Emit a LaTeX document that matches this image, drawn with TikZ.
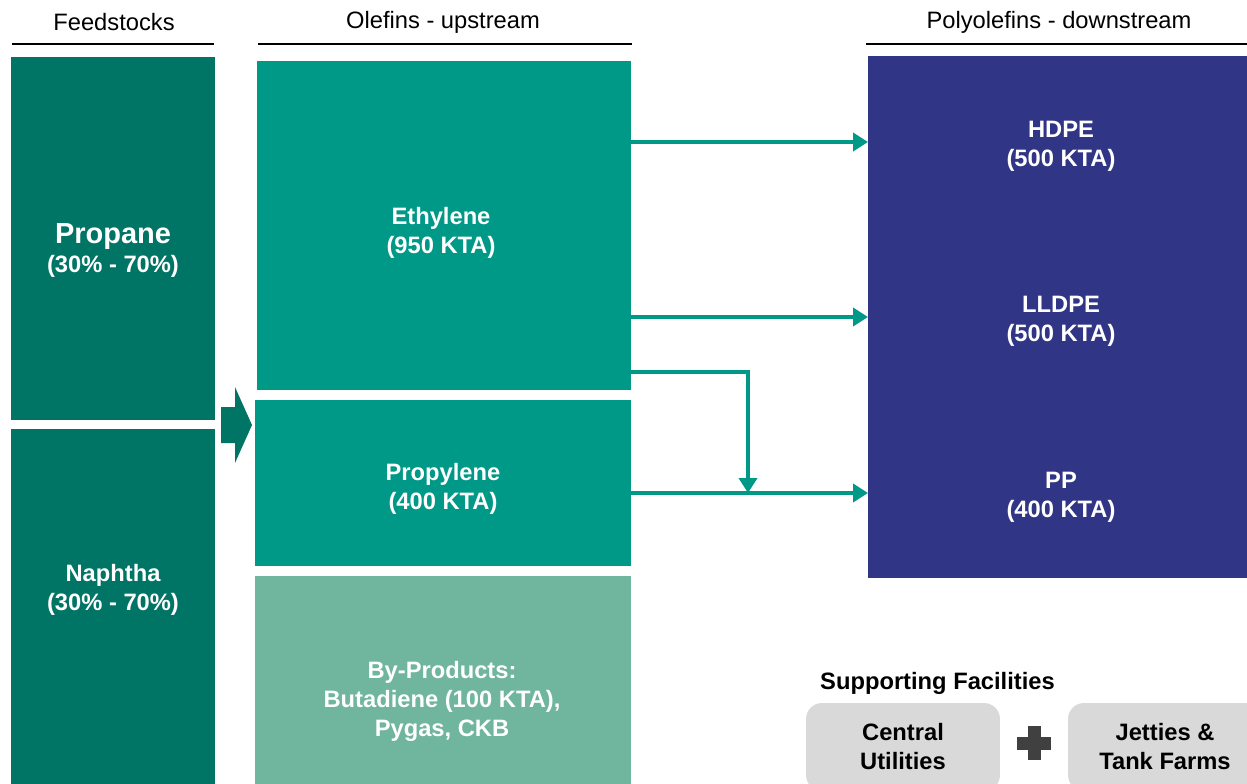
\documentclass[tikz,border=0pt]{standalone}
\usepackage{fontspec}
\setmainfont{Liberation Sans}
\usetikzlibrary{arrows.meta}

\definecolor{feedteal}{RGB}{0,116,101}
\definecolor{olefteal}{RGB}{0,153,135}
\definecolor{bygreen}{RGB}{112,181,157}
\definecolor{polyblue}{RGB}{48,53,133}
\definecolor{facgray}{RGB}{217,217,217}
\definecolor{plusgray}{RGB}{64,64,64}

\begin{document}
\begin{tikzpicture}[x = 0.02cm, y = -0.02cm,
    box/.style = {rectangle, inner sep = 0pt, outer sep = 0pt},
    lbl/.style = {white, align = center, font = \fontsize{13.5}{16.5}\selectfont\bfseries},
    hdr/.style = {font = \fontsize{13.5}{16}\selectfont},
    flow/.style = {olefteal, line width = 2.8pt, -{Triangle[length = 0.3cm, width = 0.36cm]}},
    fac/.style = {box, fill = facgray, rounded corners = 0.32cm, minimum width = 3.88cm,
                  minimum height = 1.76cm, align = center, font = \fontsize{13.5}{16.5}\selectfont\bfseries}]

    \clip (0, 0) rectangle (1247, 784);

        % column headings
        \node[hdr] (hfeed) at (114, 22) {Feedstocks};
        \node[hdr] (holef) at (443, 22) {Olefins - upstream};
        \node[hdr] (hpoly) at (1059, 22) {Polyolefins - downstream};
        \draw[line width = 1.4pt] (12, 44) -- (214, 44);
        \draw[line width = 1.4pt] (258, 44) -- (632, 44);
        \draw[line width = 1.4pt] (866, 44) -- (1247, 44);

        % feedstocks
        \node[box, fill = feedteal, minimum width = 4.08cm, minimum height = 7.26cm] (propane) at (113, 238.5) {};
        \node[box, fill = feedteal, minimum width = 4.08cm, minimum height = 7.42cm] (naphtha) at (113, 614.5) {};
        \node[lbl] at (113, 250) {{\fontsize{16.5}{19}\selectfont Propane}\\(30\% - 70\%)};
        \node[lbl] at (113, 590) {Naphtha\\(30\% - 70\%)};

        % big arrow into the cracker
        \fill[feedteal] (221, 407) -- (235, 407) -- (235, 387) -- (252, 425)
                        -- (235, 463) -- (235, 443) -- (221, 443) -- cycle;

        % olefins
        \node[box, fill = olefteal, minimum width = 7.48cm, minimum height = 6.58cm] (eth) at (444, 225.5) {};
        \node[box, fill = olefteal, minimum width = 7.52cm, minimum height = 3.32cm] (prop) at (443, 483) {};
        \node[box, fill = bygreen, minimum width = 7.52cm, minimum height = 4.48cm] (byp) at (443, 688) {};
        \node[lbl] at (441, 233) {Ethylene\\(950 KTA)};
        \node[lbl] at (443, 489) {Propylene\\(400 KTA)};
        \node[lbl] at (442, 701) {By-Products:\\Butadiene (100 KTA),\\Pygas, CKB};

        % polyolefins
        \node[box, fill = polyblue, minimum width = 7.64cm, minimum height = 10.44cm] (poly) at (1059, 317) {};
        \node[lbl] (hdpe) at (1061, 146) {HDPE\\(500 KTA)};
        \node[lbl] (lldpe) at (1061, 321) {LLDPE\\(500 KTA)};
        \node[lbl] (pp) at (1061, 497) {PP\\(400 KTA)};

        % product flows
        \coordinate (drop) at (748, 493);
        \draw[flow] (eth.east |- 0, 142) -- (poly.west |- 0, 142);
        \draw[flow] (eth.east |- 0, 317) -- (poly.west |- 0, 317);
        \draw[flow] (prop.east |- drop) -- (poly.west |- drop);
        \draw[flow] (eth.east |- 0, 372) -| (drop);

        % supporting facilities
        \node[anchor = west, font = \fontsize{13.5}{16}\selectfont\bfseries] (supp) at (814, 683) {Supporting Facilities};
        \node[fac] (cu) at (903, 747) {Central\\Utilities};
        \node[fac] (jt) at (1165, 747) {Jetties \&\\Tank Farms};
        \fill[plusgray] (1027.5, 726) rectangle (1040.5, 760);
        \fill[plusgray] (1017, 736.5) rectangle (1051, 749.5);

\end{tikzpicture}
\end{document}
